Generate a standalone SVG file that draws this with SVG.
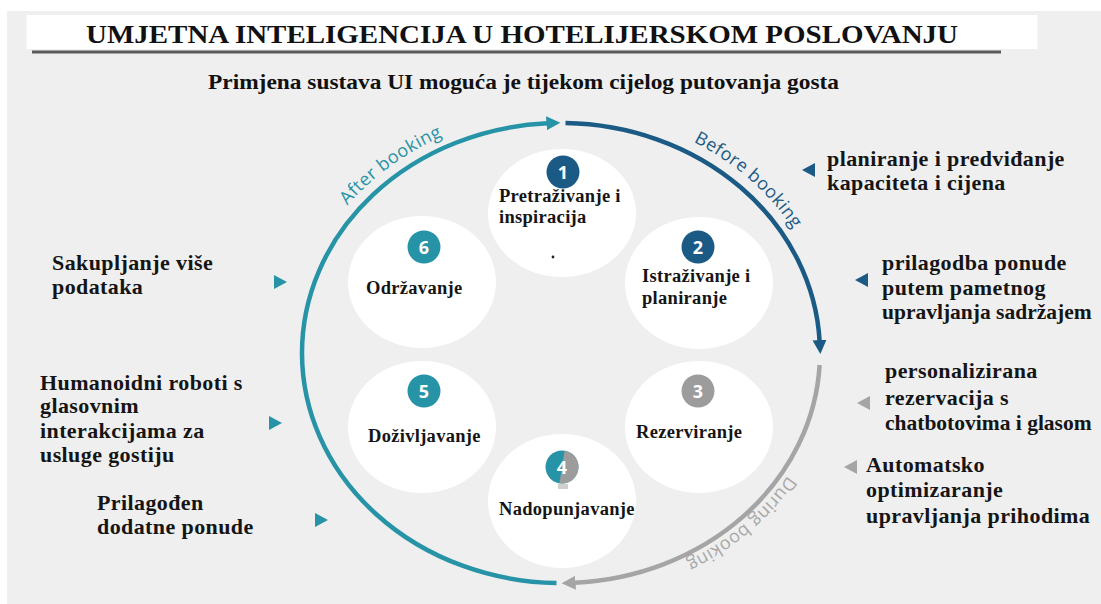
<svg xmlns="http://www.w3.org/2000/svg" width="1101" height="604" viewBox="0 0 1101 604">
<style>
.bg{fill:#efefef}
.node{fill:#ffffff}
.lbl{font-family:"Liberation Serif","Times New Roman",serif;font-weight:bold;font-size:18.5px;fill:#151515;letter-spacing:0.3px}
.side{font-family:"Liberation Serif","Times New Roman",serif;font-weight:bold;font-size:22px;fill:#151515;letter-spacing:0.4px}
.fit{font-size:21.5px;letter-spacing:0px}
.num{font-family:"Open Sans","Liberation Sans",sans-serif;font-weight:bold;font-size:18px;fill:#ffffff;text-anchor:middle}
.arclbl{font-family:"Open Sans","Liberation Sans",sans-serif;font-size:18px;letter-spacing:0.4px}
.blue{fill:#1b5a85}
.teal{fill:#2793a6}
.grey{fill:#9c9c9c}
</style>
<defs>
<marker id="mBlue" markerUnits="userSpaceOnUse" markerWidth="16" markerHeight="16" refX="1" refY="8" orient="auto"><path d="M0,1 L14,8 L0,15 z" fill="#1b5a85"/></marker>
<marker id="mGrey" markerUnits="userSpaceOnUse" markerWidth="16" markerHeight="16" refX="1" refY="8" orient="auto"><path d="M0,1 L14,8 L0,15 z" fill="#a5a5a5"/></marker>
<marker id="mTeal" markerUnits="userSpaceOnUse" markerWidth="16" markerHeight="16" refX="1" refY="8" orient="auto"><path d="M0,1 L14,8 L0,15 z" fill="#2793a6"/></marker>
<path id="pBefore" d="M609.0,114.6 A270,241 0 0 1 826.9,311.2"/>
<path id="pAfter" d="M300.2,290.6 A270,241 0 0 1 537.5,112.9"/>
<path id="pDuring" d="M815.8,418.0 A265,236 0 0 1 625.1,582.0"/>
<clipPath id="c4"><circle cx="562" cy="467" r="16.5"/></clipPath>
</defs>

<rect class="bg" x="7" y="11" width="1094" height="593"/>

<g id="title">
<rect x="26.5" y="15" width="1011" height="34" fill="#ffffff"/>
<line x1="32" y1="52" x2="1001" y2="52" stroke="#5a5a5a" stroke-width="3"/>
<text x="86" y="43" font-family="'Liberation Serif','Times New Roman',serif" font-weight="bold" font-size="26" fill="#111" textLength="872" lengthAdjust="spacingAndGlyphs">UMJETNA INTELIGENCIJA U HOTELIJERSKOM POSLOVANJU</text>
<text x="208" y="89" font-family="'Liberation Serif','Times New Roman',serif" font-weight="bold" font-size="21" fill="#111" textLength="631" lengthAdjust="spacingAndGlyphs">Primjena sustava UI moguća je tijekom cijelog putovanja gosta</text>
</g>

<g id="connectors" fill="none" stroke-width="4.5">
<path id="arcBefore" d="M565.5,123.0 A259,230 0 0 1 819.6,341.0" stroke="#1b5a85" marker-end="url(#mBlue)"/>
<path id="arcDuring" d="M819.6,365.0 A259,230 0 0 1 574.6,582.7" stroke="#a5a5a5" marker-end="url(#mGrey)"/>
<path id="arcAfter" d="M556.5,583.0 A259,230 0 0 1 302,353 A259,230 0 0 1 547.4,123.3" stroke="#2793a6" marker-end="url(#mTeal)"/>
<text class="arclbl blue"><textPath href="#pBefore" startOffset="50%" text-anchor="middle">Before booking</textPath></text>
<text class="arclbl teal"><textPath href="#pAfter" startOffset="50%" text-anchor="middle">After booking</textPath></text>
<text class="arclbl" fill="#a8a8a8"><textPath href="#pDuring" startOffset="50%" text-anchor="middle">During booking</textPath></text>
</g>

<g id="node1">
<ellipse class="node" cx="562" cy="213" rx="74" ry="64"/>
<circle class="blue" cx="563" cy="172" r="16.5"/>
<text class="num" x="563" y="178.5">1</text>
<text class="lbl" x="499" y="202">Pretraživanje i</text>
<text class="lbl" x="499" y="223">inspiracija</text>
<circle cx="553" cy="257" r="1.4" fill="#222"/>
</g>

<g id="node2">
<ellipse class="node" cx="699" cy="283" rx="74" ry="66"/>
<circle class="blue" cx="698" cy="247" r="16.5"/>
<text class="num" x="698" y="253.5">2</text>
<text class="lbl" x="642" y="282">Istraživanje i</text>
<text class="lbl" x="642" y="304">planiranje</text>
</g>

<g id="node3">
<ellipse class="node" cx="699" cy="427" rx="74" ry="66"/>
<circle class="grey" cx="698" cy="391" r="16.5"/>
<text class="num" x="698" y="397.5">3</text>
<text class="lbl" x="636" y="438">Rezerviranje</text>
</g>

<g id="node4">
<ellipse class="node" cx="562" cy="501" rx="74" ry="67"/>
<circle class="teal" cx="562" cy="467" r="16.5"/>
<polygon points="565,448 585,448 585,486 559,486" fill="#9c9c9c" clip-path="url(#c4)"/>
<rect x="558" y="484" width="10" height="5" fill="#cfcfcf"/>
<text class="num" x="562" y="473.5">4</text>
<text class="lbl" x="499" y="515">Nadopunjavanje</text>
</g>

<g id="node5">
<ellipse class="node" cx="422" cy="427" rx="74" ry="66"/>
<circle class="teal" cx="424" cy="391" r="16.5"/>
<text class="num" x="424" y="397.5">5</text>
<text class="lbl" x="368" y="442">Doživljavanje</text>
</g>

<g id="node6">
<ellipse class="node" cx="422" cy="282" rx="74" ry="66"/>
<circle class="teal" cx="424" cy="247" r="16.5"/>
<text class="num" x="424" y="253.5">6</text>
<text class="lbl" x="366" y="294">Održavanje</text>
</g>

<g id="note-r1">
<polygon class="blue" points="815,163 802,170 815,177"/>
<text class="side" x="827" y="166">planiranje i predviđanje</text>
<text class="side" x="827" y="190">kapaciteta i cijena</text>
</g>
<g id="note-r2">
<polygon class="blue" points="868,273 855,280 868,287"/>
<text class="side" x="882" y="270">prilagodba ponude</text>
<text class="side" x="882" y="295">putem pametnog</text>
<text class="side fit" x="882" y="319">upravljanja sadržajem</text>
</g>
<g id="note-r3">
<polygon fill="#a5a5a5" points="870,396 857,403 870,410"/>
<text class="side" x="885" y="378">personalizirana</text>
<text class="side" x="885" y="405">rezervacija s</text>
<text class="side fit" x="885" y="430">chatbotovima i glasom</text>
</g>
<g id="note-r4">
<polygon fill="#a5a5a5" points="857,460 844,467 857,474"/>
<text class="side" x="866" y="472">Automatsko</text>
<text class="side" x="866" y="497">optimizaranje</text>
<text class="side" x="866" y="523">upravljanja prihodima</text>
</g>
<g id="note-l1">
<polygon class="teal" points="274,275 287,282 274,289"/>
<text class="side" x="52" y="270">Sakupljanje više</text>
<text class="side" x="52" y="294">podataka</text>
</g>
<g id="note-l2">
<polygon class="teal" points="269,416 282,423 269,430"/>
<text class="side" x="40" y="390">Humanoidni roboti s</text>
<text class="side" x="40" y="413">glasovnim</text>
<text class="side" x="40" y="438">interakcijama za</text>
<text class="side" x="40" y="462">usluge gostiju</text>
</g>
<g id="note-l3">
<polygon class="teal" points="315,513 328,520 315,527"/>
<text class="side" x="97" y="510">Prilagođen</text>
<text class="side" x="97" y="534">dodatne ponude</text>
</g>
</svg>
